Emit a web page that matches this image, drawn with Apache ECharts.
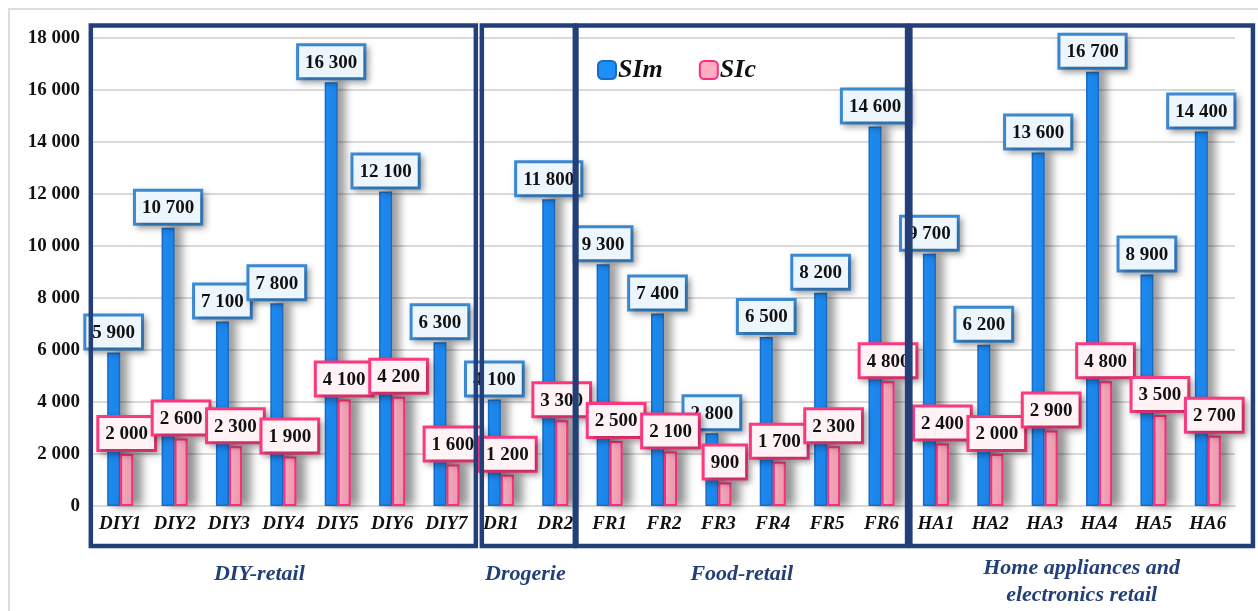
<!DOCTYPE html>
<html>
<head>
<meta charset="utf-8">
<script src="https://cdn.jsdelivr.net/npm/echarts@6/dist/echarts.min.js"></script>
<style>
  html, body { margin: 0; padding: 0; background: #fff; }
  #chart { width: 1258px; height: 611px; }
</style>
</head>
<body>
<div id="chart"></div>
<script>
// Retail chains and their SIm / SIc values
const categories = ['DIY1', 'DIY2', 'DIY3', 'DIY4', 'DIY5', 'DIY6', 'DIY7',
  'DR1', 'DR2',
  'FR1', 'FR2', 'FR3', 'FR4', 'FR5', 'FR6',
  'HA1', 'HA2', 'HA3', 'HA4', 'HA5', 'HA6'];
const simValues = [5900, 10700, 7100, 7800, 16300, 12100, 6300,
  4100, 11800,
  9300, 7400, 2800, 6500, 8200, 14600,
  9700, 6200, 13600, 16700, 8900, 14400];
const sicValues = [2000, 2600, 2300, 1900, 4100, 4200, 1600,
  1200, 3300,
  2500, 2100, 900, 1700, 2300, 4800,
  2400, 2000, 2900, 4800, 3500, 2700];
const yTicks = { min: 0, max: 18000, interval: 2000 };

// Sector groups: first/last category of each frame (fractional index edges)
const groupNames = ['DIY-retail', 'Drogerie', 'Food-retail', 'Home appliances and\nelectronics retail'];
const groupEdges = [[-0.54, 6.54], [6.65, 8.36], [8.39, 14.47], [14.53, 20.83]];
const groupLabelShift = [-24, -3, 0, 0];

const SERIF = "'Liberation Serif', 'Times New Roman', serif";
const NAVY = '#233F78';

function spaced(v) {
  return String(v).replace(/\B(?=(\d{3})+(?!\d))/g, ' ');
}

const chart = echarts.init(document.getElementById('chart'), null, { renderer: 'canvas' });

function valueLabel(bg, border) {
  return {
    show: true,
    position: 'top',
    distance: 5,
    formatter: p => spaced(p.value),
    fontFamily: SERIF,
    fontWeight: 'bold',
    fontSize: 19,
    color: '#111',
    backgroundColor: bg,
    borderColor: border,
    borderWidth: 3,
    padding: [7, 6, 5, 6],
    shadowColor: 'rgba(0,0,0,0.28)',
    shadowBlur: 6,
    shadowOffsetX: 3,
    shadowOffsetY: 3
  };
}

chart.setOption({
  animation: false,
  backgroundColor: '#fff',
  grid: { left: 93, right: 23, top: 38, bottom: 105 },
  legend: {
    left: 592,
    top: 52,
    itemWidth: 18,
    itemHeight: 18,
    itemGap: 36,
    textStyle: {
      fontFamily: SERIF,
      fontWeight: 'bold',
      fontStyle: 'italic',
      fontSize: 26,
      color: '#111',
      padding: [0, 0, 0, -3]
    },
    data: ['SIm', 'SIc']
  },
  xAxis: {
    type: 'category',
    data: categories,
    axisTick: { show: false },
    axisLine: { lineStyle: { color: '#D9D9D9', width: 2 } },
    axisLabel: {
      interval: 0,
      margin: 9,
      fontFamily: SERIF,
      fontWeight: 'bold',
      fontStyle: 'italic',
      fontSize: 19,
      color: '#111'
    }
  },
  yAxis: {
    type: 'value',
    min: yTicks.min,
    max: yTicks.max,
    interval: yTicks.interval,
    axisLine: { show: false },
    axisTick: { show: false },
    splitLine: { lineStyle: { color: '#D9D9D9', width: 2 } },
    axisLabel: {
      margin: 13,
      formatter: v => spaced(v),
      fontFamily: SERIF,
      fontWeight: 'bold',
      fontSize: 19,
      color: '#111'
    }
  },
  series: [
    {
      name: 'SIm',
      type: 'bar',
      data: simValues,
      barWidth: 13,
      barGap: '0%',
      itemStyle: {
        color: '#1E8EF8',
        borderColor: '#1A6BC4',
        borderWidth: 1.5,
        shadowColor: 'rgba(0,0,0,0.4)',
        shadowBlur: 9,
        shadowOffsetX: 7
      },
      label: valueLabel('#EEF6FD', '#3C8BD5'),
      z: 2
    },
    {
      name: 'SIc',
      type: 'bar',
      data: sicValues,
      barWidth: 13,
      itemStyle: {
        color: '#FFADC0',
        borderColor: '#FF2C7C',
        borderWidth: 2,
        shadowColor: 'rgba(0,0,0,0.45)',
        shadowBlur: 10,
        shadowOffsetX: 8
      },
      label: valueLabel('#FFF3F6', '#FF3A82'),
      z: 3
    }
  ]
});

// Frames around sectors and sector names, placed from the axis scales
function drawFrames() {
  const x0 = chart.convertToPixel({ xAxisIndex: 0 }, categories[0]);
  const x1 = chart.convertToPixel({ xAxisIndex: 0 }, categories[1]);
  const step = x1 - x0;
  const yTop = chart.convertToPixel({ yAxisIndex: 0 }, yTicks.max) - 12.5;
  const yBottom = chart.convertToPixel({ yAxisIndex: 0 }, 0) + 40;
  const graphics = [{
    type: 'rect',
    shape: { x: 9, y: 9, width: 1260, height: 610 },
    style: { fill: null, stroke: '#DCDCDC', lineWidth: 2 },
    z: 0,
    silent: true
  }];
  groupEdges.forEach((e, i) => {
    const left = x0 + e[0] * step;
    const right = x0 + e[1] * step;
    graphics.push({
      type: 'rect',
      shape: { x: left, y: yTop, width: right - left, height: yBottom - yTop },
      style: { fill: null, stroke: NAVY, lineWidth: 4.5 },
      z: 100,
      silent: true
    });
    const twoLines = groupNames[i].indexOf('\n') >= 0;
    graphics.push({
      type: 'text',
      x: (left + right) / 2 + groupLabelShift[i],
      y: yBottom + (twoLines ? 9 : 15),
      style: {
        text: groupNames[i],
        align: 'center',
        verticalAlign: 'top',
        fontFamily: SERIF,
        fontWeight: 'bold',
        fontStyle: 'italic',
        fontSize: 22,
        lineHeight: 27,
        fill: NAVY
      },
      z: 100,
      silent: true
    });
  });
  chart.setOption({ graphic: graphics });
}
drawFrames();
</script>
</body>
</html>
